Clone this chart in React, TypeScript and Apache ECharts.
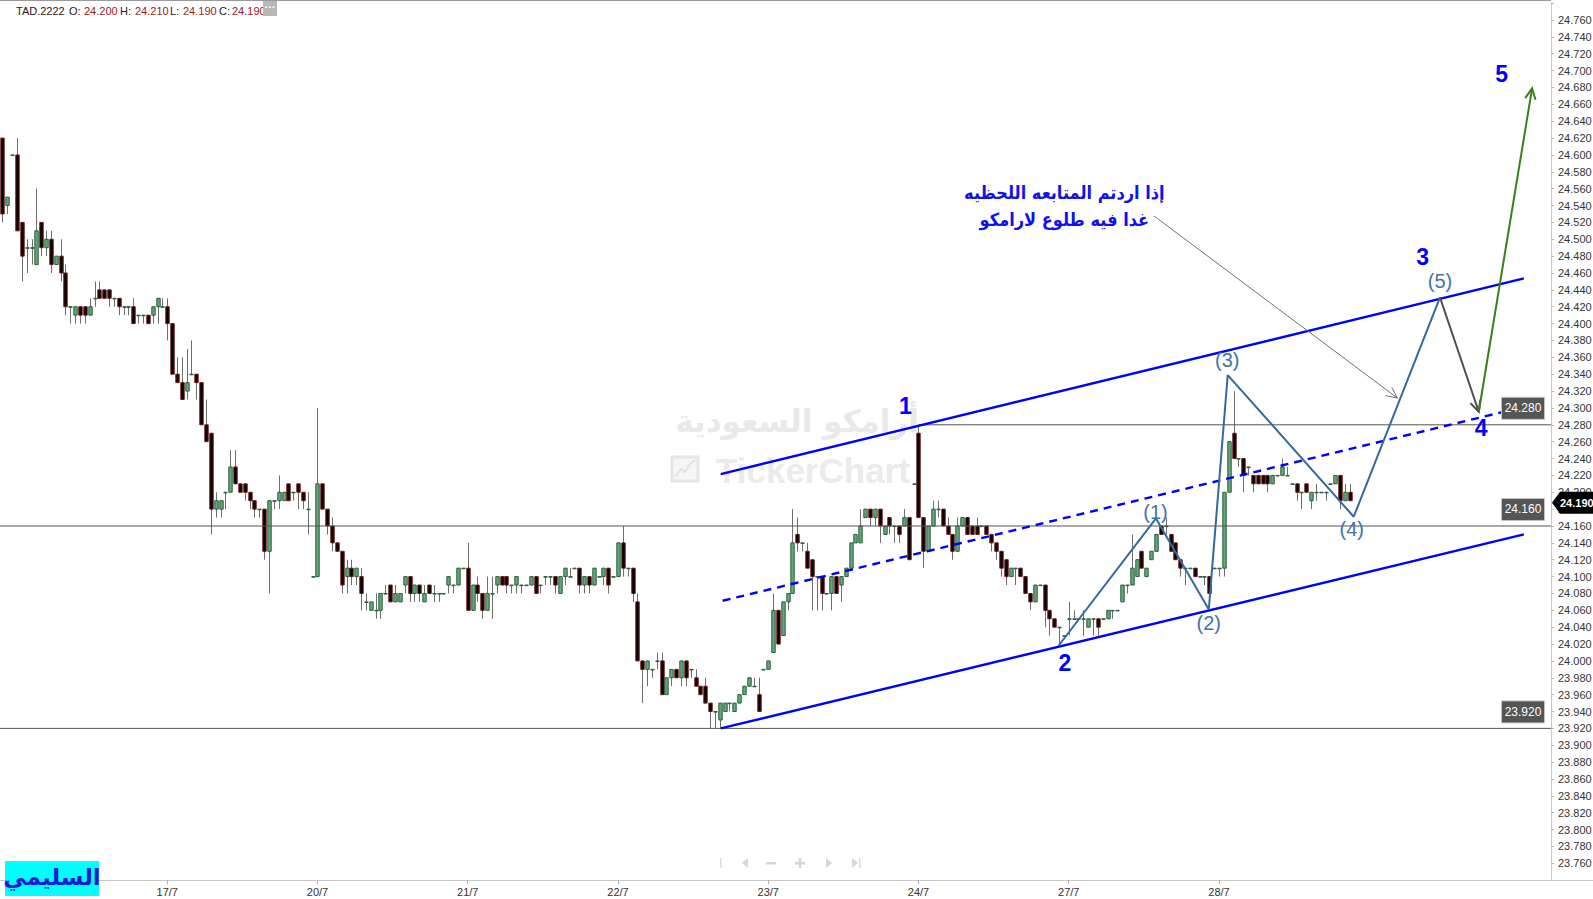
import React, { useEffect, useRef } from 'react';
import * as echarts from 'echarts';

// [open, close, low, high] for each 10-minute bar (index = slot on the time axis)
const ohlc: number[][] = [
  [24.62,24.53,24.52,24.62],[24.54,24.55,24.53,24.55],[24.60,24.60,24.60,24.60],[24.60,24.51,24.51,24.62],
  [24.52,24.48,24.45,24.52],[24.49,24.49,24.46,24.50],[24.49,24.49,24.47,24.50],[24.47,24.51,24.47,24.56],
  [24.52,24.49,24.48,24.52],[24.49,24.50,24.48,24.51],[24.50,24.47,24.46,24.51],[24.47,24.48,24.47,24.48],
  [24.48,24.46,24.45,24.50],[24.46,24.42,24.41,24.47],[24.42,24.42,24.40,24.42],[24.41,24.42,24.40,24.42],
  [24.42,24.41,24.40,24.42],[24.42,24.41,24.40,24.42],[24.41,24.42,24.41,24.43],[24.43,24.43,24.42,24.45],
  [24.44,24.43,24.43,24.45],[24.44,24.43,24.43,24.44],[24.44,24.43,24.42,24.44],[24.43,24.43,24.42,24.43],
  [24.43,24.42,24.41,24.43],[24.42,24.42,24.41,24.42],[24.42,24.42,24.41,24.42],[24.42,24.40,24.40,24.43],
  [24.41,24.41,24.40,24.41],[24.41,24.41,24.40,24.41],[24.41,24.40,24.40,24.41],[24.41,24.42,24.40,24.42],
  [24.42,24.43,24.40,24.43],[24.42,24.42,24.42,24.43],[24.42,24.40,24.38,24.43],[24.40,24.34,24.34,24.40],
  [24.34,24.33,24.33,24.36],[24.33,24.31,24.31,24.36],[24.32,24.33,24.31,24.37],[24.34,24.34,24.34,24.38],
  [24.34,24.33,24.31,24.34],[24.33,24.28,24.28,24.33],[24.28,24.26,24.26,24.31],[24.27,24.18,24.15,24.27],
  [24.18,24.19,24.17,24.20],[24.18,24.19,24.17,24.19],[24.20,24.20,24.18,24.20],[24.20,24.23,24.20,24.25],
  [24.23,24.21,24.21,24.25],[24.21,24.20,24.20,24.21],[24.21,24.20,24.19,24.21],[24.20,24.19,24.18,24.20],
  [24.19,24.18,24.17,24.19],[24.18,24.18,24.17,24.18],[24.18,24.13,24.12,24.18],[24.13,24.19,24.08,24.19],
  [24.19,24.19,24.18,24.19],[24.19,24.20,24.18,24.22],[24.19,24.20,24.19,24.20],[24.21,24.19,24.19,24.21],
  [24.20,24.20,24.19,24.20],[24.21,24.20,24.18,24.21],[24.20,24.19,24.18,24.20],[24.18,24.18,24.15,24.20],
  [24.10,24.10,24.10,24.10],[24.10,24.21,24.10,24.30],[24.21,24.18,24.18,24.21],[24.18,24.16,24.15,24.18],
  [24.16,24.14,24.13,24.17],[24.14,24.13,24.13,24.14],[24.13,24.09,24.08,24.13],[24.10,24.11,24.08,24.12],
  [24.11,24.10,24.09,24.12],[24.10,24.11,24.09,24.11],[24.10,24.08,24.06,24.11],[24.07,24.07,24.06,24.08],
  [24.06,24.07,24.06,24.07],[24.06,24.06,24.05,24.08],[24.06,24.08,24.05,24.08],[24.08,24.08,24.08,24.09],
  [24.09,24.07,24.07,24.09],[24.07,24.08,24.07,24.09],[24.07,24.08,24.07,24.08],[24.09,24.10,24.08,24.10],
  [24.10,24.08,24.07,24.10],[24.08,24.09,24.07,24.09],[24.09,24.08,24.07,24.09],[24.07,24.08,24.07,24.09],
  [24.09,24.08,24.08,24.09],[24.08,24.08,24.07,24.09],[24.08,24.08,24.07,24.08],[24.08,24.08,24.08,24.08],
  [24.09,24.10,24.08,24.10],[24.09,24.09,24.08,24.09],[24.09,24.11,24.09,24.11],[24.11,24.11,24.11,24.11],
  [24.11,24.06,24.06,24.14],[24.06,24.09,24.06,24.09],[24.09,24.08,24.07,24.10],[24.08,24.06,24.05,24.08],
  [24.06,24.08,24.06,24.10],[24.08,24.08,24.05,24.10],[24.09,24.10,24.08,24.10],[24.10,24.09,24.09,24.10],
  [24.10,24.09,24.08,24.10],[24.09,24.09,24.08,24.09],[24.09,24.10,24.08,24.10],[24.09,24.09,24.08,24.09],
  [24.09,24.09,24.09,24.09],[24.09,24.10,24.09,24.10],[24.10,24.08,24.08,24.10],[24.09,24.09,24.08,24.09],
  [24.10,24.10,24.09,24.10],[24.10,24.10,24.09,24.10],[24.10,24.09,24.08,24.10],[24.08,24.10,24.08,24.10],
  [24.10,24.11,24.09,24.11],[24.10,24.10,24.10,24.11],[24.11,24.11,24.11,24.11],[24.11,24.09,24.08,24.11],
  [24.09,24.10,24.08,24.10],[24.10,24.09,24.08,24.10],[24.09,24.11,24.09,24.11],[24.10,24.10,24.10,24.10],
  [24.10,24.11,24.09,24.11],[24.11,24.09,24.08,24.11],[24.10,24.10,24.10,24.10],[24.10,24.14,24.10,24.14],
  [24.14,24.11,24.10,24.16],[24.11,24.11,24.10,24.11],[24.11,24.08,24.07,24.11],[24.07,24.00,24.00,24.08],
  [24.00,23.99,23.95,24.00],[23.99,24.00,23.97,24.00],[23.99,23.99,23.98,23.99],[24.00,24.00,23.99,24.01],
  [24.00,23.96,23.96,24.01],[23.96,23.98,23.96,23.98],[23.98,23.99,23.97,23.99],[23.99,23.98,23.98,23.99],
  [23.98,24.00,23.97,24.00],[24.00,23.98,23.97,24.00],[23.99,23.99,23.98,23.99],[23.98,23.97,23.97,23.99],
  [23.97,23.96,23.96,23.97],[23.97,23.95,23.95,23.98],[23.95,23.94,23.92,23.95],[23.94,23.94,23.92,23.94],
  [23.93,23.95,23.92,23.95],[23.94,23.95,23.94,23.95],[23.95,23.95,23.94,23.95],[23.94,23.95,23.94,23.95],
  [23.95,23.96,23.95,23.96],[23.96,23.97,23.96,23.97],[23.97,23.98,23.97,23.98],[23.97,23.97,23.97,23.98],
  [23.96,23.94,23.94,23.98],[23.99,23.99,23.99,23.99],[23.99,24.00,23.99,24.00],[24.01,24.06,24.01,24.08],
  [24.06,24.02,24.02,24.06],[24.03,24.07,24.03,24.07],[24.07,24.08,24.06,24.08],[24.08,24.14,24.08,24.18],
  [24.15,24.14,24.13,24.17],[24.14,24.14,24.13,24.14],[24.13,24.11,24.11,24.14],[24.12,24.10,24.06,24.12],
  [24.10,24.10,24.06,24.10],[24.10,24.08,24.06,24.10],[24.08,24.08,24.08,24.08],[24.08,24.10,24.06,24.10],
  [24.10,24.08,24.08,24.10],[24.09,24.10,24.07,24.10],[24.10,24.11,24.10,24.11],[24.11,24.14,24.11,24.14],
  [24.14,24.15,24.14,24.15],[24.14,24.16,24.14,24.18],[24.17,24.18,24.17,24.18],[24.18,24.17,24.16,24.18],
  [24.17,24.18,24.16,24.18],[24.18,24.16,24.14,24.18],[24.15,24.16,24.15,24.16],[24.17,24.16,24.15,24.17],
  [24.16,24.16,24.14,24.16],[24.16,24.15,24.14,24.16],[24.16,24.17,24.16,24.18],[24.17,24.12,24.12,24.17],
  [24.21,24.21,24.21,24.21],[24.27,24.17,24.17,24.28],[24.17,24.13,24.11,24.17],[24.13,24.16,24.13,24.16],
  [24.16,24.18,24.16,24.19],[24.18,24.18,24.17,24.19],[24.18,24.16,24.16,24.18],[24.16,24.15,24.15,24.17],
  [24.15,24.13,24.12,24.15],[24.13,24.16,24.13,24.17],[24.16,24.17,24.16,24.17],[24.17,24.15,24.15,24.17],
  [24.16,24.15,24.15,24.16],[24.16,24.15,24.15,24.17],[24.16,24.16,24.16,24.16],[24.16,24.15,24.15,24.16],
  [24.15,24.14,24.13,24.15],[24.14,24.13,24.12,24.14],[24.13,24.11,24.10,24.13],[24.12,24.10,24.09,24.12],
  [24.10,24.11,24.10,24.11],[24.11,24.11,24.09,24.11],[24.11,24.10,24.10,24.11],[24.10,24.08,24.08,24.10],
  [24.08,24.07,24.06,24.08],[24.07,24.09,24.07,24.09],[24.09,24.09,24.09,24.09],[24.09,24.06,24.04,24.09],
  [24.06,24.05,24.03,24.06],[24.05,24.04,24.04,24.05],[24.04,24.04,24.02,24.04],[24.03,24.03,24.03,24.03],
  [24.05,24.05,24.03,24.07],[24.05,24.05,24.05,24.06],[24.05,24.05,24.05,24.05],[24.05,24.05,24.03,24.06],
  [24.04,24.05,24.04,24.05],[24.05,24.05,24.03,24.05],[24.05,24.04,24.03,24.05],[24.05,24.05,24.05,24.05],
  [24.05,24.06,24.05,24.06],[24.06,24.06,24.05,24.06],[24.06,24.06,24.06,24.06],[24.07,24.09,24.07,24.09],
  [24.09,24.09,24.08,24.09],[24.09,24.11,24.09,24.15],[24.10,24.12,24.10,24.12],[24.13,24.11,24.11,24.13],
  [24.10,24.11,24.10,24.11],[24.12,24.13,24.12,24.13],[24.13,24.15,24.13,24.15],[24.16,24.15,24.15,24.16],
  [24.16,24.16,24.15,24.17],[24.15,24.13,24.13,24.15],[24.14,24.12,24.12,24.14],[24.12,24.11,24.10,24.12],
  [24.11,24.11,24.09,24.11],[24.11,24.11,24.11,24.11],[24.11,24.10,24.10,24.11],[24.10,24.10,24.10,24.10],
  [24.10,24.10,24.09,24.10],[24.10,24.08,24.08,24.10],[24.11,24.11,24.11,24.11],[24.11,24.11,24.10,24.11],
  [24.11,24.20,24.10,24.20],[24.20,24.26,24.20,24.26],[24.27,24.24,24.24,24.32],[24.24,24.24,24.23,24.24],
  [24.24,24.22,24.20,24.24],[24.23,24.23,24.22,24.23],[24.22,24.21,24.20,24.22],[24.22,24.21,24.21,24.22],
  [24.22,24.21,24.21,24.22],[24.22,24.21,24.20,24.22],[24.21,24.22,24.21,24.22],[24.22,24.22,24.22,24.22],
  [24.22,24.23,24.22,24.24],[24.22,24.22,24.22,24.23],[24.21,24.21,24.21,24.21],[24.21,24.20,24.19,24.21],
  [24.20,24.20,24.18,24.20],[24.21,24.20,24.20,24.21],[24.19,24.20,24.18,24.20],[24.20,24.20,24.19,24.21],
  [24.20,24.20,24.20,24.20],[24.20,24.20,24.19,24.20],[24.21,24.21,24.21,24.21],[24.21,24.22,24.21,24.22],
  [24.22,24.19,24.18,24.22],[24.19,24.20,24.19,24.21],[24.20,24.19,24.19,24.21],
];

const SLOTS = 320;
const dateLabels: Record<number, string> = {
  3: '16/7', 34: '17/7', 65: '20/7', 96: '21/7', 127: '22/7', 158: '23/7', 189: '24/7', 220: '27/7', 251: '28/7',
};
const yMin = 23.74;
const yMax = 24.78;
const yStep = 0.02;

const levelValues = [24.28, 24.16, 23.92];
const levelStarts = [189, -0.5, -0.5];

const upperChannel = [[148.2, 24.2216], [313.9, 24.4537]];
const lowerChannel = [[148.2, 23.92], [313.9, 24.1501]];
const midChannel = [[148.6, 24.0714], [309.8, 24.2955]];
const wavePath = [[217.9, 24.018], [238.0, 24.169], [248.9, 24.061], [252.8, 24.339], [278.8, 24.171], [296.6, 24.431]];
const arrowLegs = [
  { from: [296.6, 24.431], to: [304.6, 24.2955], color: '#4d4d4d', width: 2 },
  { from: [304.6, 24.2955], to: [315.6, 24.679], color: '#3c7d1e', width: 2 },
  { from: [237.6, 24.5276], to: [287.8, 24.3118], color: '#707070', width: 1 },
];
const waveNumbers = [
  { x: 186.3, y: 24.302, t: '1' }, { x: 219.2, y: 23.997, t: '2' }, { x: 293.0, y: 24.479, t: '3' },
  { x: 305.1, y: 24.276, t: '4' }, { x: 309.3, y: 24.696, t: '5' },
];
const subWaves = [
  { x: 237.9, y: 24.177, t: '(1)' }, { x: 248.9, y: 24.045, t: '(2)' }, { x: 252.7, y: 24.357, t: '(3)' },
  { x: 278.4, y: 24.156, t: '(4)' }, { x: 296.6, y: 24.450, t: '(5)' },
];
const noteLines = [
  { x: 219.1, y: 24.5549, t: 'إذا اردتم المتابعه اللحظيه' },
  { x: 219.1, y: 24.524, t: 'غدا فيه طلوع لارامكو' },
];
const lastBar = { symbol: 'TAD.2222', o: 24.2, h: 24.21, l: 24.19, c: 24.19 };

const BLUE = '#0000ff';
const WAVE = '#35699b';

export default function App() {
  const ref = useRef<HTMLDivElement>(null);
  useEffect(() => {
    if (!ref.current) return;
    const chart = echarts.init(ref.current, null, { renderer: 'svg' });
    const cats = Array.from({ length: SLOTS }, (_, j) => dateLabels[j] ?? '');
    const showIdx = (idx: number) => dateLabels[idx] !== undefined;
    const allTexts = [
      ...waveNumbers.map((w) => ({ ...w, fill: BLUE, font: 'bold 23px "Liberation Sans", Arial' })),
      ...subWaves.map((w) => ({ ...w, fill: '#4173a3', font: '20px "Liberation Sans", Arial' })),
      ...noteLines.map((w) => ({ ...w, fill: '#1111ee', font: 'bold 18px "DejaVu Sans Condensed", "DejaVu Sans"' })),
    ];
    const lineSeries = (data: number[][], color: string, width: number, type: any = 'solid') => ({
      type: 'line', xAxisIndex: 1, yAxisIndex: 0, data, symbol: 'none', silent: true, z: 4,
      lineStyle: { color, width, type }, animation: false,
    });
    const hdr = (x: number, text: string, fill: string) => ({
      type: 'text', x, y: 11, z: 100,
      style: { text, fill, font: '11px "Liberation Sans", Arial', verticalAlign: 'middle' },
    });
    const option: any = {
      animation: false,
      backgroundColor: '#ffffff',
      grid: { left: 0, right: 42, top: 3.13, height: 877.07, outerBoundsMode: 'none', containLabel: false },
      xAxis: [
        {
          type: 'category', data: cats, boundaryGap: true,
          axisLine: { show: true, onZero: false, lineStyle: { color: '#c8c8c8' } },
          axisTick: { show: true, alignWithLabel: true, interval: showIdx, length: 4, lineStyle: { color: '#b0b0b0' } },
          axisLabel: { interval: showIdx, color: '#333', fontSize: 11, fontFamily: 'Liberation Sans', margin: 6 },
          splitLine: { show: false },
        },
        { type: 'value', min: -0.5, max: SLOTS - 0.5, show: false, axisLine: { onZero: false } },
      ],
      yAxis: {
        type: 'value', position: 'right', min: yMin, max: yMax, interval: yStep, scale: true,
        axisLine: { show: true, onZero: false, lineStyle: { color: '#c8c8c8' } },
        axisTick: { show: true, length: 3, lineStyle: { color: '#bbbbbb' } },
        axisLabel: {
          color: '#333', fontSize: 11, fontFamily: 'Liberation Sans', margin: 7,
          formatter: (v: number) => (v < yMin + 0.01 || v > yMax - 0.01 ? '' : v.toFixed(3)),
        },
        splitLine: { show: false },
      },
      series: [
        {
          type: 'custom', xAxisIndex: 0, yAxisIndex: 0, z: 2, silent: true,
          data: ohlc.map((r, i) => [i, r[0], r[1], r[2], r[3]]),
          encode: { x: 0, y: [1, 2, 3, 4] },
          renderItem: (params: any, api: any) => {
            const i = api.value(0);
            const o = api.value(1), c = api.value(2), l = api.value(3), h = api.value(4);
            const po = api.coord([i, o]);
            const pc = api.coord([i, c]);
            const pl = api.coord([i, l]);
            const ph = api.coord([i, h]);
            const x = Math.round(po[0]) + 0.5;
            const up = c >= o;
            const top = Math.min(po[1], pc[1]);
            const hgt = Math.max(Math.abs(po[1] - pc[1]), 0.6);
            return {
              type: 'group',
              children: [
                { type: 'line', shape: { x1: x, y1: ph[1], x2: x, y2: pl[1] }, style: { stroke: '#6e6e6e', lineWidth: 1 } },
                {
                  type: 'rect', shape: { x: x - 1.7, y: top, width: 3.4, height: hgt },
                  style: { fill: up ? '#64a67d' : '#050505', stroke: up ? '#2b5e3b' : '#6e1717', lineWidth: 1 },
                },
              ],
            };
          },
        },
        ...levelValues.map((v, k) => lineSeries([[levelStarts[k], v], [SLOTS - 0.5, v]], '#555555', 1)),
        lineSeries(upperChannel, BLUE, 2.4),
        lineSeries(lowerChannel, BLUE, 2.4),
        lineSeries(midChannel, BLUE, 2.4, [8, 6]),
        lineSeries(wavePath, WAVE, 2),
        {
          type: 'custom', xAxisIndex: 1, yAxisIndex: 0, z: 5, silent: true, clip: false,
          data: arrowLegs.map((a) => [a.from[0], a.from[1], a.to[0], a.to[1]]),
          encode: { x: [0, 2], y: [1, 3] },
          renderItem: (params: any, api: any) => {
            const a = arrowLegs[params.dataIndex];
            const p1 = api.coord(a.from);
            const p2 = api.coord(a.to);
            const ang = Math.atan2(p2[1] - p1[1], p2[0] - p1[0]);
            const L = 12, w = 0.45;
            const h1 = [p2[0] - L * Math.cos(ang - w), p2[1] - L * Math.sin(ang - w)];
            const h2 = [p2[0] - L * Math.cos(ang + w), p2[1] - L * Math.sin(ang + w)];
            return {
              type: 'group',
              children: [
                { type: 'line', shape: { x1: p1[0], y1: p1[1], x2: p2[0], y2: p2[1] }, style: { stroke: a.color, lineWidth: a.width } },
                { type: 'polyline', shape: { points: [h1, p2, h2] }, style: { stroke: a.color, lineWidth: a.width, fill: null } },
              ],
            };
          },
        },
        {
          type: 'custom', xAxisIndex: 1, yAxisIndex: 0, z: 6, silent: true, clip: false,
          data: allTexts.map((t) => [t.x, t.y]),
          encode: { x: 0, y: 1 },
          renderItem: (params: any, api: any) => {
            const t = allTexts[params.dataIndex];
            const p = api.coord([t.x, t.y]);
            return {
              type: 'text',
              style: { x: p[0], y: p[1], text: t.t, fill: t.fill, font: t.font, align: 'center', verticalAlign: 'middle' },
            };
          },
        },
        {
          type: 'custom', xAxisIndex: 1, yAxisIndex: 0, z: 7, silent: true, clip: false,
          data: levelValues.map((v) => [SLOTS - 0.5, v]),
          encode: { x: 0, y: 1 },
          renderItem: (params: any, api: any) => {
            const v = levelValues[params.dataIndex];
            const p = api.coord([SLOTS - 0.5, v]);
            return {
              type: 'group',
              children: [
                { type: 'rect', shape: { x: p[0] - 49.5, y: p[1] - 27.5, width: 43, height: 22 }, style: { fill: '#555555', stroke: '#c4c4c4', lineWidth: 1 } },
                {
                  type: 'text',
                  style: { x: p[0] - 28, y: p[1] - 16.5, text: v.toFixed(3), fill: '#ffffff', font: '12px "Liberation Sans", Arial', align: 'center', verticalAlign: 'middle' },
                },
              ],
            };
          },
        },
        {
          type: 'custom', xAxisIndex: 1, yAxisIndex: 0, z: 8, silent: true, clip: false,
          data: [[SLOTS - 0.5, lastBar.c]],
          encode: { x: 0, y: 1 },
          renderItem: (params: any, api: any) => {
            const p = api.coord([SLOTS - 0.5, lastBar.c]);
            const cy = p[1] + 2;
            return {
              type: 'group',
              children: [
                {
                  type: 'polygon',
                  shape: { points: [[p[0] + 1, cy], [p[0] + 9, cy - 11], [p[0] + 43, cy - 11], [p[0] + 43, cy + 11], [p[0] + 9, cy + 11]] },
                  style: { fill: '#000000' },
                },
                {
                  type: 'text',
                  style: { x: p[0] + 9, y: cy, text: lastBar.c.toFixed(3), fill: '#ffffff', font: 'bold 11px "Liberation Sans", Arial', verticalAlign: 'middle' },
                },
              ],
            };
          },
        },
      ],
      graphic: [
        { type: 'line', z: 50, shape: { x1: 0, y1: 0.5, x2: 1551, y2: 0.5 }, style: { stroke: '#9a9a9a', lineWidth: 1 } },
        { type: 'line', z: 50, shape: { x1: 1551, y1: 880.5, x2: 1593, y2: 880.5 }, style: { stroke: '#c8c8c8', lineWidth: 1 } },
        hdr(16, lastBar.symbol, '#222'),
        hdr(69, 'O:', '#222'), hdr(84, lastBar.o.toFixed(3), '#9b1c1c'),
        hdr(120, 'H:', '#222'), hdr(135, lastBar.h.toFixed(3), '#9b1c1c'),
        hdr(170, 'L:', '#222'), hdr(183, lastBar.l.toFixed(3), '#9b1c1c'),
        hdr(219, 'C:', '#222'), hdr(232, lastBar.c.toFixed(3), '#9b1c1c'),
        { type: 'rect', z: 100, shape: { x: 263, y: 1, width: 14, height: 15 }, style: { fill: '#b8b8b8' } },
        { type: 'text', z: 101, x: 270, y: 7, style: { text: '···', fill: '#ffffff', font: 'bold 11px "Liberation Sans"', align: 'center', verticalAlign: 'middle' } },
        // watermark
        { type: 'text', z: 0, x: 797, y: 421, style: { text: 'أرامكو السعودية', fill: '#e9e9e9', font: 'bold 31px "DejaVu Sans"', align: 'center', verticalAlign: 'middle' } },
        { type: 'text', z: 0, x: 716, y: 470, style: { text: 'TickerChart', fill: '#ebebeb', font: 'bold 35px "Liberation Sans", Arial', align: 'left', verticalAlign: 'middle' } },
        { type: 'rect', z: 0, shape: { x: 672, y: 457, width: 26, height: 24 }, style: { fill: '#f6f6f6', stroke: '#e6e6e6', lineWidth: 3 } },
        { type: 'polyline', z: 0, shape: { points: [[675, 477], [681, 469], [685, 472], [690, 464], [695, 460]] }, style: { stroke: '#e2e2e2', lineWidth: 2, fill: null } },
        // navigation controls
        { type: 'rect', z: 10, shape: { x: 720, y: 858, width: 1.5, height: 10 }, style: { fill: '#dcdcdc' } },
        { type: 'polygon', z: 10, shape: { points: [[748, 858], [742, 863], [748, 868]] }, style: { fill: '#d6d6d6' } },
        { type: 'rect', z: 10, shape: { x: 766, y: 862, width: 10, height: 2.5 }, style: { fill: '#d6d6d6' } },
        { type: 'rect', z: 10, shape: { x: 795, y: 862, width: 10, height: 2.5 }, style: { fill: '#d6d6d6' } },
        { type: 'rect', z: 10, shape: { x: 798.8, y: 858, width: 2.5, height: 10 }, style: { fill: '#d6d6d6' } },
        { type: 'polygon', z: 10, shape: { points: [[826, 858], [832, 863], [826, 868]] }, style: { fill: '#d6d6d6' } },
        { type: 'polygon', z: 10, shape: { points: [[852, 858], [858, 863], [852, 868]] }, style: { fill: '#d6d6d6' } },
        { type: 'rect', z: 10, shape: { x: 859, y: 858, width: 1.5, height: 10 }, style: { fill: '#dcdcdc' } },
        // signature
        { type: 'rect', z: 100, shape: { x: 5, y: 861, width: 94, height: 35 }, style: { fill: '#00ffff' } },
        { type: 'text', z: 101, x: 52, y: 877, style: { text: 'السليمي', fill: '#1a1ae0', font: 'bold 23px "DejaVu Sans"', align: 'center', verticalAlign: 'middle' } },
      ],
    };
    chart.setOption(option);
    return () => chart.dispose();
  }, []);
  return <div ref={ref} style={{ position: 'fixed', left: 0, top: 0, width: 1593, height: 899, background: '#fff' }} />;
}
